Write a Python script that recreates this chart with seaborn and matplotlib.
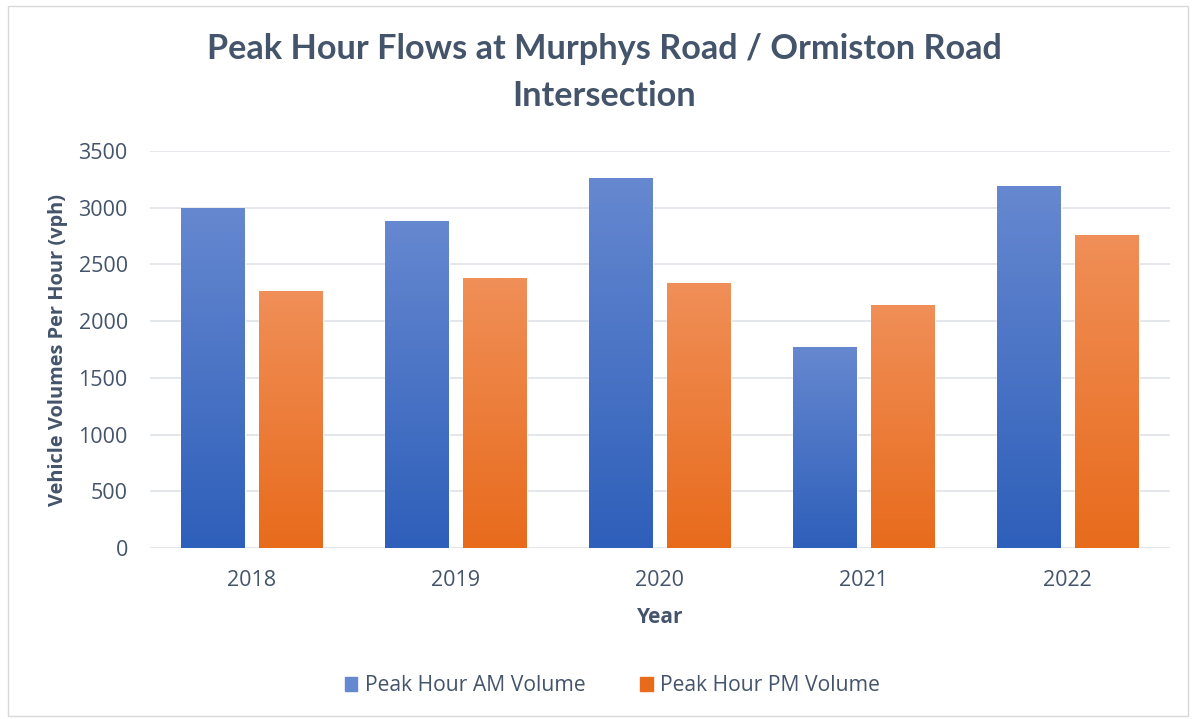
import numpy as np
import pandas as pd
import seaborn as sb
import matplotlib.pyplot as plt
from matplotlib.colors import LinearSegmentedColormap
from matplotlib.patches import Rectangle

# values (vph)
years = ["2018", "2019", "2020", "2021", "2022"]
am_volume = [3000, 2885, 3265, 1775, 3190]
pm_volume = [2265, 2380, 2335, 2145, 2760]
series = ["Peak Hour AM Volume", "Peak Hour PM Volume"]

df = pd.DataFrame({
    "Year": years * 2,
    "Volume": am_volume + pm_volume,
    "Series": [series[0]] * len(years) + [series[1]] * len(years),
})

txt = "#44546A"
grid = "#E1E5EA"
blue_top, blue_bot = "#6688D0", "#2E5FBA"
orange_top, orange_bot = "#F08F58", "#E86B1C"

sb.set_style("white")
plt.rcParams["font.family"] = ["Open Sans", "DejaVu Sans"]

fig = plt.figure(figsize=(11.96, 7.19), dpi=100)
ax = fig.add_axes([0.1254, 0.2378, 0.978 - 0.1254, 0.79 - 0.2378])

sb.barplot(data=df, x="Year", y="Volume", hue="Series", order=years,
           palette=[blue_bot, orange_bot], width=0.765, gap=0.18,
           errorbar=None, ax=ax, legend=False)

# Excel style vertical gradient on every bar
cmaps = {
    0: LinearSegmentedColormap.from_list("b", [blue_bot, blue_top]),
    1: LinearSegmentedColormap.from_list("o", [orange_bot, orange_top]),
}
grad = np.linspace(0, 1, 256).reshape(-1, 1)
for i, bar in enumerate(ax.patches[:len(df)]):
    x0, y0 = bar.get_x(), bar.get_y()
    w, h = bar.get_width(), bar.get_height()
    im = ax.imshow(grad, cmap=cmaps[i // len(years)], origin="lower", aspect="auto",
                   extent=[x0, x0 + w, y0, y0 + h], zorder=bar.get_zorder() + 0.1)
    im.set_clip_path(bar)

ax.set_xlim(-0.5, len(years) - 0.5)
ax.set_ylim(0, 3500)
ax.set_yticks(range(0, 3501, 500))
ax.yaxis.grid(True, color=grid, linewidth=1.3)
ax.set_axisbelow(True)
for s in ax.spines.values():
    s.set_visible(False)
ax.tick_params(axis="both", length=0, labelsize=15.5, colors=txt)
ax.tick_params(axis="y", pad=16)
ax.tick_params(axis="x", pad=16)

ax.set_xlabel("Year", fontsize=15, fontweight="bold", color=txt, labelpad=11.5)
ax.set_ylabel("Vehicle Volumes Per Hour (vph)", fontsize=14.4, fontweight="bold",
              color=txt)
ax.yaxis.set_label_coords(-0.08, 0.5)

fig.text(0.505, 0.899, "Peak Hour Flows at Murphys Road / Ormiston Road\nIntersection",
         ha="center", va="center", fontsize=24.7, fontweight="bold", color=txt,
         linespacing=1.55, family=["Lato", "DejaVu Sans"])

handles = [Rectangle((0, 0), 1, 1, color=c) for c in (blue_top, orange_bot)]
fig.legend(handles, series, loc="center", bbox_to_anchor=(0.512, 0.046), ncol=2,
           frameon=False, fontsize=15.2, labelcolor=txt, handlelength=0.6,
           handleheight=0.6, handletextpad=0.35, columnspacing=2.6)

fig.add_artist(Rectangle((0.007, 0.004), 0.986, 0.988, transform=fig.transFigure,
                         fill=False, edgecolor="#D9D9D9", linewidth=1))

fig.savefig("out.png", dpi=100)
